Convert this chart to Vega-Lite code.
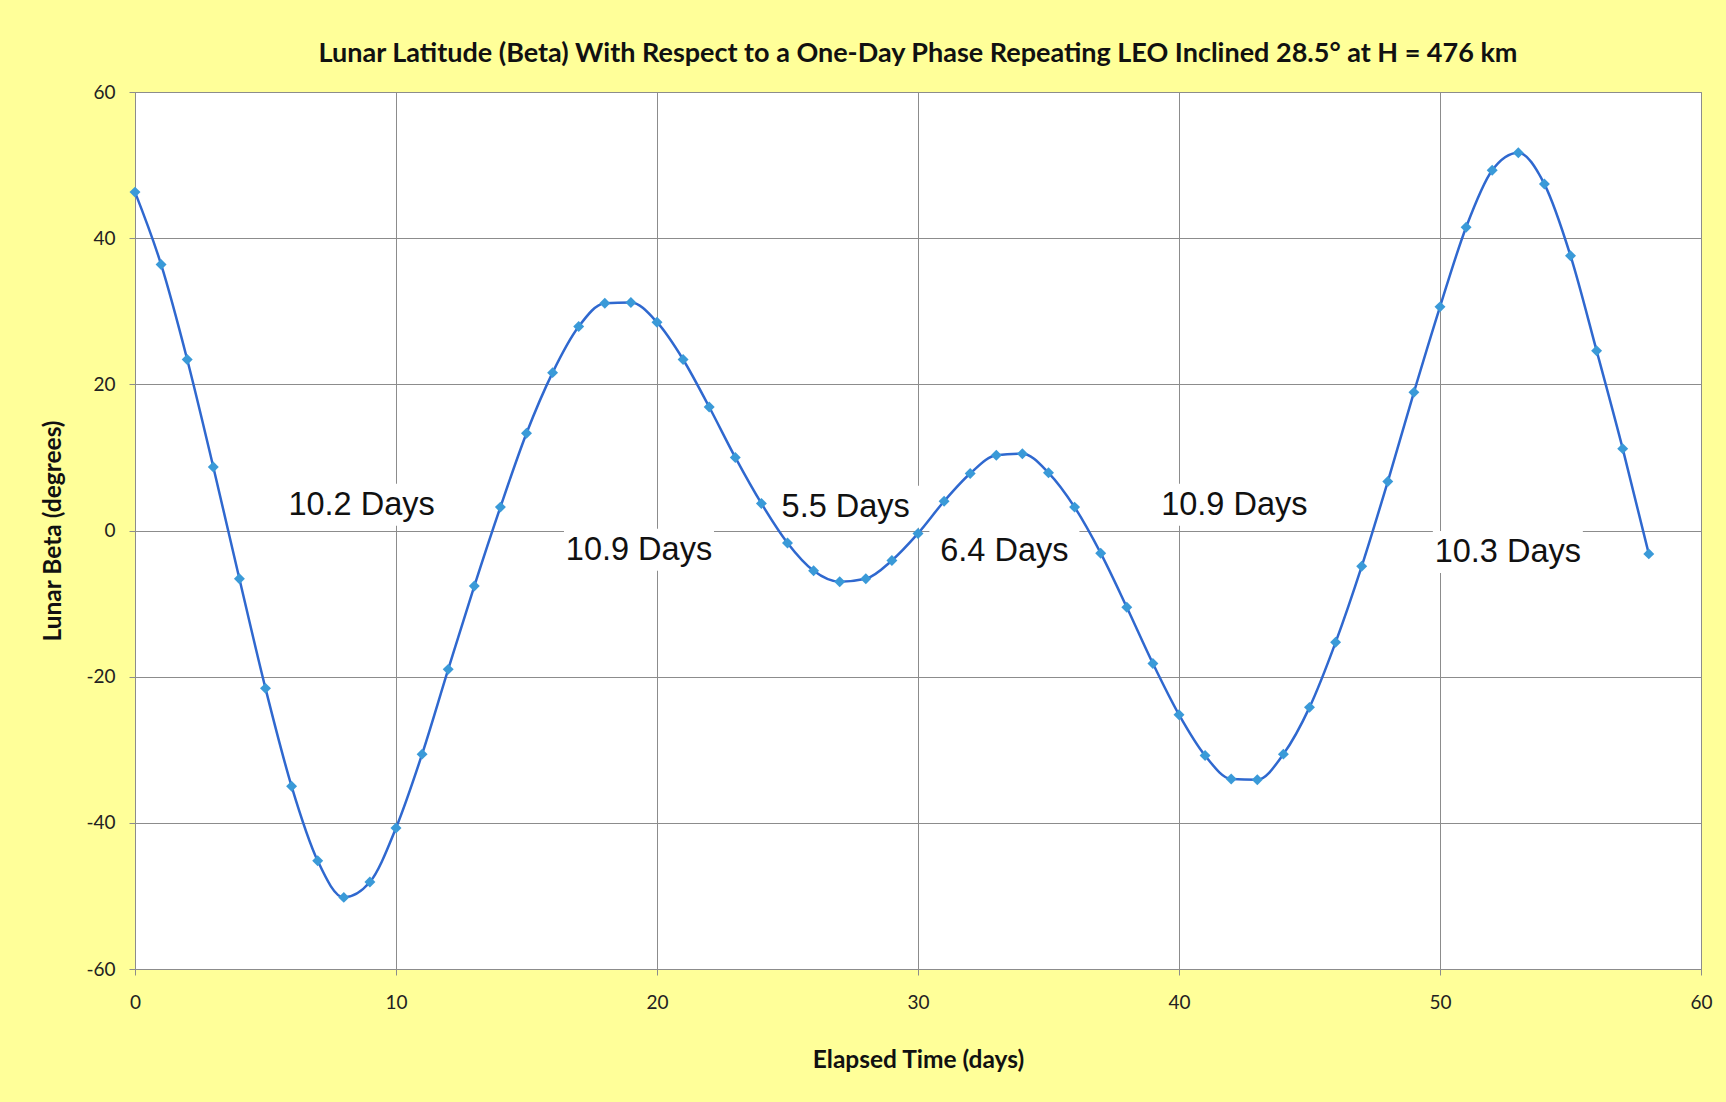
{
  "$schema": "https://vega.github.io/schema/vega-lite/v6.json",
  "autosize": "none",
  "width": 1566,
  "height": 877,
  "padding": {"left": 135, "top": 92, "right": 25, "bottom": 133},
  "background": "#FFFF99",
  "title": {
    "text": "Lunar Latitude (Beta) With Respect to a One-Day Phase Repeating LEO Inclined 28.5° at H = 476 km",
    "font": "Lato",
    "fontSize": 27,
    "fontWeight": "bold",
    "color": "#111111",
    "anchor": "middle",
    "offset": 15
  },
  "config": {
    "view": {"stroke": "#8c8c8c", "strokeWidth": 1, "fill": "white"},
    "axis": {
      "labelFont": "Lato",
      "labelFontSize": 19,
      "labelColor": "#222222",
      "labelFlush": false,
      "labelExpr": "replace(datum.label, '\u2212', '-')",
      "titleFont": "Lato",
      "titleFontSize": 24.5,
      "titleFontWeight": "bold",
      "titleColor": "#111111",
      "gridColor": "#8c8c8c",
      "gridWidth": 1,
      "gridOpacity": 1,
      "domainColor": "#8c8c8c",
      "tickColor": "#8c8c8c",
      "tickSize": 6
    }
  },
  "datasets": {
    "beta": [
      {"day": 0, "beta": 46.3}, {"day": 1, "beta": 36.4}, {"day": 2, "beta": 23.4},
      {"day": 3, "beta": 8.7}, {"day": 4, "beta": -6.6}, {"day": 5, "beta": -21.6},
      {"day": 6, "beta": -35.0}, {"day": 7, "beta": -45.2}, {"day": 8, "beta": -50.2},
      {"day": 9, "beta": -48.1}, {"day": 10, "beta": -40.7}, {"day": 11, "beta": -30.6},
      {"day": 12, "beta": -19.0}, {"day": 13, "beta": -7.6}, {"day": 14, "beta": 3.2},
      {"day": 15, "beta": 13.3}, {"day": 16, "beta": 21.6}, {"day": 17, "beta": 27.9},
      {"day": 18, "beta": 31.1}, {"day": 19, "beta": 31.2}, {"day": 20, "beta": 28.5},
      {"day": 21, "beta": 23.4}, {"day": 22, "beta": 16.9}, {"day": 23, "beta": 10.0},
      {"day": 24, "beta": 3.7}, {"day": 25, "beta": -1.7}, {"day": 26, "beta": -5.5},
      {"day": 27, "beta": -7.0}, {"day": 28, "beta": -6.6}, {"day": 29, "beta": -4.1},
      {"day": 30, "beta": -0.4}, {"day": 31, "beta": 4.0}, {"day": 32, "beta": 7.8},
      {"day": 33, "beta": 10.3}, {"day": 34, "beta": 10.5}, {"day": 35, "beta": 7.9},
      {"day": 36, "beta": 3.2}, {"day": 37, "beta": -3.1}, {"day": 38, "beta": -10.5},
      {"day": 39, "beta": -18.2}, {"day": 40, "beta": -25.2}, {"day": 41, "beta": -30.8},
      {"day": 42, "beta": -34.0}, {"day": 43, "beta": -34.1}, {"day": 44, "beta": -30.6},
      {"day": 45, "beta": -24.2}, {"day": 46, "beta": -15.3}, {"day": 47, "beta": -4.9},
      {"day": 48, "beta": 6.7}, {"day": 49, "beta": 18.9}, {"day": 50, "beta": 30.6},
      {"day": 51, "beta": 41.5}, {"day": 52, "beta": 49.3}, {"day": 53, "beta": 51.7},
      {"day": 54, "beta": 47.4}, {"day": 55, "beta": 37.6}, {"day": 56, "beta": 24.6},
      {"day": 57, "beta": 11.2}, {"day": 58, "beta": -3.2}
    ],
    "labels": [
      {"day": 8.68, "beta": 3.54, "label": "10.2 Days"},
      {"day": 19.31, "beta": -2.64, "label": "10.9 Days"},
      {"day": 27.23, "beta": 3.24, "label": "5.5 Days"},
      {"day": 33.31, "beta": -2.79, "label": "6.4 Days"},
      {"day": 42.12, "beta": 3.54, "label": "10.9 Days"},
      {"day": 52.6, "beta": -2.94, "label": "10.3 Days"}
    ]
  },
  "encoding": {
    "x": {
      "field": "day",
      "type": "quantitative",
      "scale": {"domain": [0, 60], "nice": false, "zero": false},
      "axis": {
        "title": "Elapsed Time (days)",
        "values": [0, 10, 20, 30, 40, 50, 60],
        "labelPadding": 18,
        "titlePadding": 36
      }
    },
    "y": {
      "field": "beta",
      "type": "quantitative",
      "scale": {"domain": [-60, 60], "nice": false},
      "axis": {
        "title": "Lunar Beta (degrees)",
        "values": [-60, -40, -20, 0, 20, 40, 60],
        "labelPadding": 14,
        "titlePadding": 20
      }
    }
  },
  "layer": [
    {
      "data": {"name": "labels"},
      "mark": {
        "type": "point",
        "shape": "M-1,-0.28H1V0.28H-1Z",
        "filled": true,
        "fill": "white",
        "strokeWidth": 0,
        "opacity": 1,
        "size": 22500
      }
    },
    {
      "data": {"name": "beta"},
      "mark": {"type": "line", "interpolate": "monotone", "color": "#2f68cf", "strokeWidth": 2.5}
    },
    {
      "data": {"name": "beta"},
      "mark": {"type": "point", "shape": "diamond", "filled": true, "fill": "#3a9ad8", "opacity": 1, "size": 120, "strokeWidth": 0}
    },
    {
      "data": {"name": "labels"},
      "mark": {
        "type": "text",
        "font": "Liberation Sans",
        "fontSize": 32.5,
        "color": "#111111",
        "align": "center",
        "baseline": "middle"
      },
      "encoding": {"text": {"field": "label", "type": "nominal"}}
    }
  ]
}
